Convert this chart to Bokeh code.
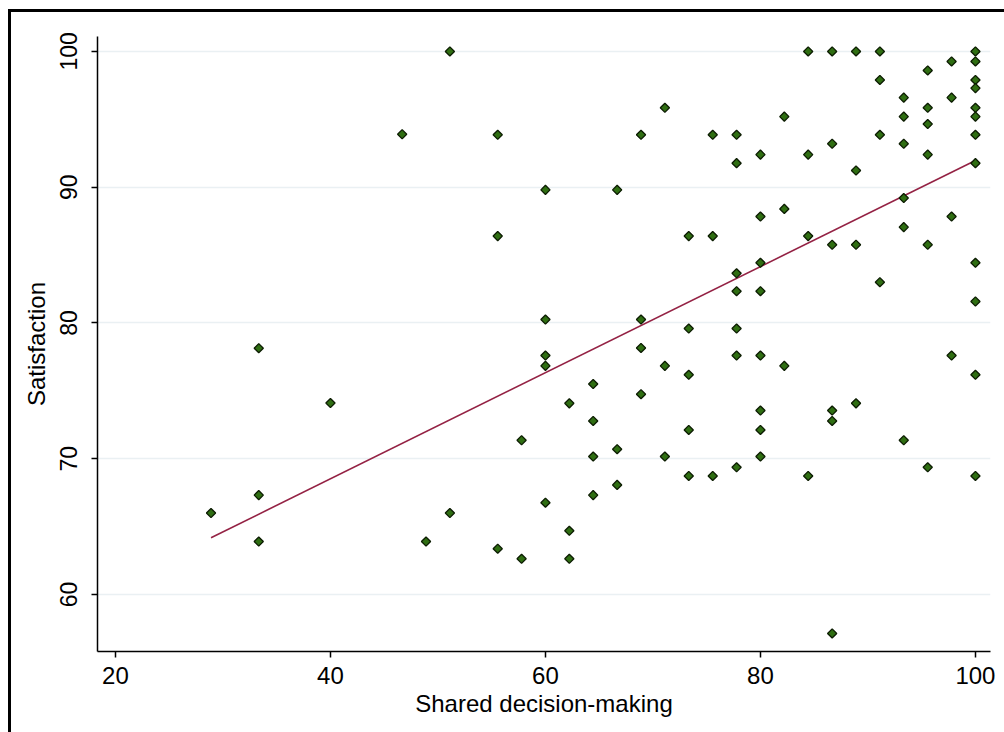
import numpy as np
from bokeh.plotting import figure
from bokeh.models import Range1d, FixedTicker
from bokeh.embed import file_html
from bokeh.resources import INLINE

# Shared decision-making score (x) and satisfaction (y)
sdm = ([28.89] + [33.33] * 3 + [40.0] + [46.67] + [48.89] + [51.11] * 2 +
       [55.56] * 3 + [57.78] * 2 + [60.0] * 5 + [62.22] * 3 + [64.44] * 4 +
       [66.67] * 3 + [68.89] * 4 + [71.11] * 3 + [73.33] * 5 + [75.56] * 3 +
       [77.78] * 7 + [80.0] * 8 + [82.22] * 3 + [84.44] * 4 + [86.67] * 6 +
       [88.89] * 4 + [91.11] * 4 + [93.33] * 6 + [95.56] * 6 + [97.78] * 4 +
       [100.0] * 12)
satisfaction = [
    66.0,
    78.14, 67.32, 63.9,
    74.1,
    93.9,
    63.9,
    100.0, 66.0,
    93.86, 86.4, 63.37,
    71.36, 62.63,
    89.8, 80.25, 77.6, 76.84, 66.76,
    74.08, 64.69, 62.63,
    75.5, 72.78, 70.16, 67.32,
    89.8, 70.7, 68.07,
    93.86, 80.25, 78.16, 74.75,
    95.85, 76.84, 70.16,
    86.4, 79.59, 76.18, 72.12, 68.73,
    93.86, 86.4, 68.73,
    93.86, 91.77, 83.66, 82.34, 79.59, 77.6, 69.37,
    92.4, 87.84, 84.43, 82.34, 77.6, 73.55, 72.12, 70.16,
    95.2, 88.4, 76.84,
    100.0, 92.4, 86.4, 68.73,
    100.0, 93.2, 85.76, 73.55, 72.78, 57.13,
    100.0, 91.23, 85.76, 74.08,
    100.0, 97.9, 93.86, 83.0,
    96.6, 95.2, 93.2, 89.2, 87.06, 71.36,
    98.6, 95.85, 94.65, 92.4, 85.76, 69.37,
    99.26, 96.6, 87.84, 77.6,
    100.0, 99.26, 97.9, 97.3, 95.85, 95.2, 93.86, 91.77, 84.43, 81.58, 76.18, 68.73,
]

# Fitted line endpoints
fit_x = [28.89, 100.0]
fit_y = [64.18, 91.97]

x_ticks = [20, 40, 60, 80, 100]
y_ticks = [60, 70, 80, 90, 100]

FONT = "Liberation Sans"

p = figure(width=1004, height=732, output_backend="svg", toolbar_location=None,
           x_range=Range1d(18.33, 101.4), y_range=Range1d(55.8, 101.1),
           min_border_left=97, min_border_right=14, min_border_top=36,
           min_border_bottom=81)
p.border_fill_color = None
p.outline_line_color = None
p.styles = {
    "background": ("linear-gradient(#000, #000) 8px 9px / 996px 3px no-repeat, "
                   "linear-gradient(#000, #000) 8px 9px / 3px 723px no-repeat, #ffffff"),
}

p.xgrid.grid_line_color = None
p.ygrid.grid_line_color = "#eaf0f3"
p.ygrid.grid_line_width = 1.5

for ax in (p.xaxis[0], p.yaxis[0]):
    ax.axis_line_color = "black"
    ax.axis_line_width = 1.5
    ax.major_tick_line_color = "black"
    ax.major_tick_line_width = 1.5
    ax.major_tick_in = 0
    ax.major_tick_out = 6
    ax.minor_tick_line_color = None
    ax.major_label_text_font = FONT
    ax.major_label_text_font_size = "23px"
    ax.major_label_text_color = "black"
    ax.axis_label_text_font = FONT
    ax.axis_label_text_font_size = "24px"
    ax.axis_label_text_font_style = "normal"
    ax.axis_label_text_color = "black"

p.xaxis[0].ticker = FixedTicker(ticks=x_ticks)
p.yaxis[0].ticker = FixedTicker(ticks=y_ticks)
p.xaxis[0].axis_label = "Shared decision-making"
p.yaxis[0].axis_label = "Satisfaction"
p.xaxis[0].major_label_text_font_size = "24px"
p.xaxis[0].major_label_standoff = 9
p.xaxis[0].axis_label_standoff = 3
p.yaxis[0].major_label_orientation = "vertical"
p.yaxis[0].major_label_standoff = 14
p.yaxis[0].axis_label_standoff = 8

p.line(fit_x, fit_y, line_color="#942244", line_width=1.6)
p.scatter(sdm, satisfaction, marker="square", angle=np.pi / 4, size=6.5,
          fill_color="#2f6e12", line_color="#0c1c02", line_width=1.3)

open("out.html", "w").write(file_html(p, INLINE))
